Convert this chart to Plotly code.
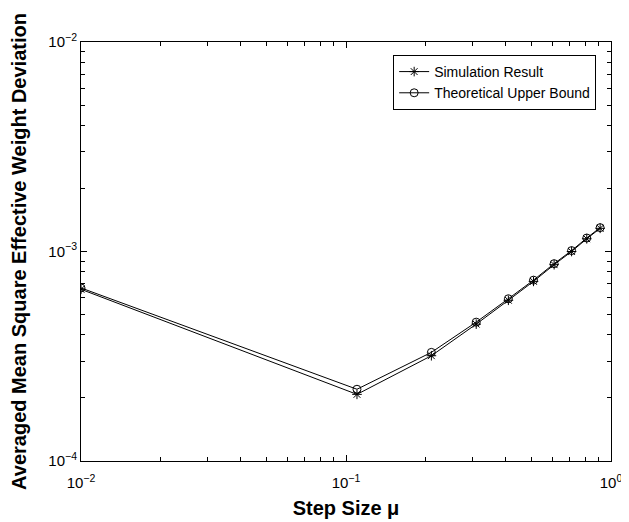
import plotly.graph_objects as go

step_size = [0.01, 0.11, 0.21, 0.31, 0.41, 0.51, 0.61, 0.71, 0.81, 0.91]
simulation = [6.6e-4, 2.08e-4, 3.18e-4, 4.5e-4, 5.85e-4, 7.2e-4, 8.65e-4, 1.0e-3, 1.15e-3, 1.29e-3]
theoretical = [6.7e-4, 2.2e-4, 3.3e-4, 4.6e-4, 5.95e-4, 7.3e-4, 8.75e-4, 1.01e-3, 1.16e-3, 1.3e-3]

x_ticks = [0.01, 0.1, 1]
x_ticktext = ["10<sup>−2</sup>", "10<sup>−1</sup>", "10<sup>0</sup>"]
y_ticks = [1e-4, 1e-3, 1e-2]
y_ticktext = ["10<sup>−4</sup>", "10<sup>−3</sup>", "10<sup>−2</sup>"]

x_minor = [m * 10 ** e for e in (-2, -1) for m in range(2, 10)]
y_minor = [m * 10 ** e for e in (-4, -3) for m in range(2, 10)]

font_family = "Liberation Sans, Arial, Helvetica, sans-serif"

fig = go.Figure()
fig.add_trace(go.Scatter(
    x=step_size, y=simulation, mode="lines+markers", name="Simulation Result",
    line=dict(color="black", width=1),
    marker=dict(symbol="asterisk-open", size=8, color="black", line=dict(color="black", width=1)),
))
fig.add_trace(go.Scatter(
    x=step_size, y=theoretical, mode="lines+markers", name="Theoretical Upper Bound",
    line=dict(color="black", width=1),
    marker=dict(symbol="circle-open", size=8, color="black", line=dict(color="black", width=1)),
))

axis_common = dict(
    type="log", showgrid=False, zeroline=False, automargin=False,
    showline=True, linecolor="black", linewidth=1, mirror="allticks",
    ticks="inside", ticklen=6, tickcolor="black", tickwidth=1,
    tickfont=dict(family=font_family, size=15, color="black"),
)

fig.update_xaxes(
    **axis_common,
    range=[-2, 0], tickvals=x_ticks, ticktext=x_ticktext, ticklabelstandoff=8,
    minor=dict(tickvals=x_minor, ticks="inside", ticklen=4, tickcolor="black", tickwidth=1),
    title=dict(text="<b>Step Size μ</b>", font=dict(family=font_family, size=20, color="black"), standoff=10),
)
fig.update_yaxes(
    **axis_common,
    range=[-4, -2], tickvals=y_ticks, ticktext=y_ticktext,
    minor=dict(tickvals=y_minor, ticks="inside", ticklen=4, tickcolor="black", tickwidth=1),
    title=dict(text="<b>Averaged Mean Square Effective Weight Deviation</b>",
               font=dict(family=font_family, size=20, color="black"), standoff=16),
)

# page body adds an 8px offset, so the figure is sized to fit the 629x522 window
fig.update_layout(
    width=621, height=514,
    margin=dict(l=73, r=18, t=34, b=61),
    paper_bgcolor="white", plot_bgcolor="white",
    font=dict(family=font_family, color="black"),
    legend=dict(
        x=0.972, y=0.969, xanchor="right", yanchor="top",
        bgcolor="white", bordercolor="black", borderwidth=1,
        font=dict(family=font_family, size=14, color="black"),
        tracegroupgap=0, itemwidth=30,
    ),
)

fig.write_html("out.html")
